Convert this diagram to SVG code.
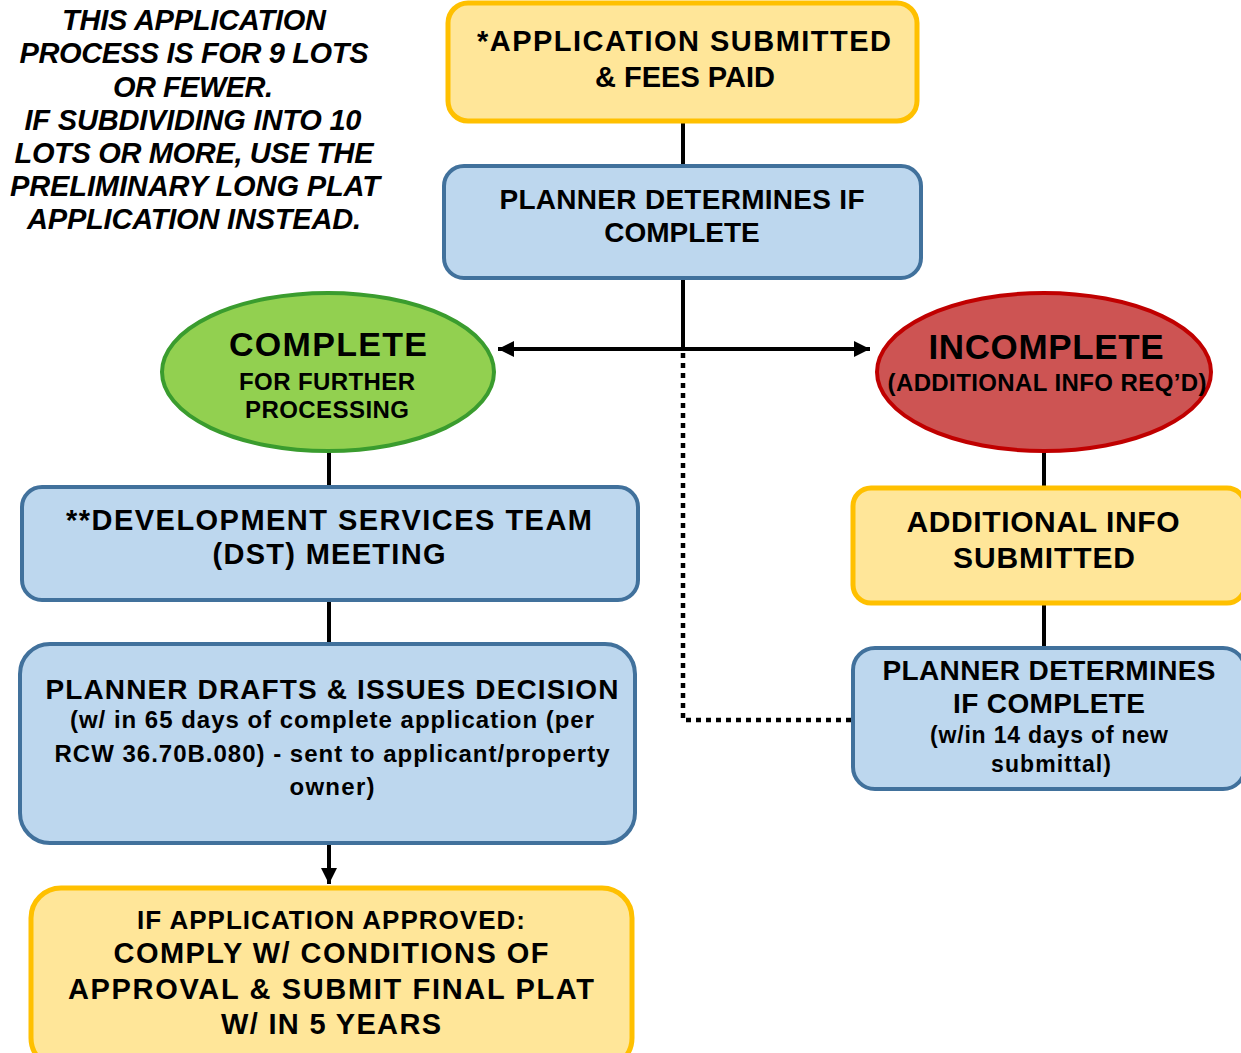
<svg xmlns="http://www.w3.org/2000/svg" width="1241" height="1053" viewBox="0 0 1241 1053">
  <defs>
    <marker id="arrow" markerUnits="userSpaceOnUse" markerWidth="18" markerHeight="16" refX="16" refY="8" orient="auto">
      <path d="M0,0 L16,8 L0,16 Z" fill="#000"/>
    </marker>
    <style>
      .t { font-family: "Liberation Sans", Arial, sans-serif; font-weight: bold; fill: #000; text-anchor: middle; }
      .note { font-style: italic; font-size: 29px; }
      .yellow { fill: #FFE699; stroke: #FFC000; stroke-width: 5; }
      .blue { fill: #BDD7EE; stroke: #41719C; stroke-width: 4; }
      .green { fill: #92D050; stroke: #3A9C2E; stroke-width: 4; }
      .red { fill: #CD5453; stroke: #C00000; stroke-width: 4; }
      .conn { stroke: #000; stroke-width: 4; fill: none; }
      .dots { stroke: #000; stroke-width: 4.5; fill: none; stroke-dasharray: 5 5; }
    </style>
  </defs>

  <rect width="1241" height="1053" fill="#fff"/>

  <!-- scope note -->
  <g id="note">
    <text class="t note" x="194" y="30" textLength="264">THIS APPLICATION</text>
    <text class="t note" x="194" y="63" textLength="349">PROCESS IS FOR 9 LOTS</text>
    <text class="t note" x="193" y="97" textLength="160">OR FEWER.</text>
    <text class="t note" x="193" y="130" textLength="337">IF SUBDIVIDING INTO 10</text>
    <text class="t note" x="194" y="163" textLength="359">LOTS OR MORE, USE THE</text>
    <text class="t note" x="195" y="196" textLength="370">PRELIMINARY LONG PLAT</text>
    <text class="t note" x="194" y="229" textLength="334">APPLICATION INSTEAD.</text>
  </g>

  <!-- connectors -->
  <g id="connectors">
    <line class="conn" x1="683" y1="121" x2="683" y2="167"/>
    <line class="conn" x1="683" y1="277" x2="683" y2="351"/>
    <line class="conn" x1="683" y1="349" x2="498" y2="349" marker-end="url(#arrow)"/>
    <line class="conn" x1="683" y1="349" x2="870" y2="349" marker-end="url(#arrow)"/>
    <line class="conn" x1="329" y1="450" x2="329" y2="489"/>
    <line class="conn" x1="329" y1="599" x2="329" y2="645"/>
    <line class="conn" x1="329" y1="843" x2="329" y2="884" marker-end="url(#arrow)"/>
    <line class="conn" x1="1044" y1="450" x2="1044" y2="489"/>
    <line class="conn" x1="1044" y1="602" x2="1044" y2="649"/>
    <polyline class="dots" points="683,353 683,720 853,720"/>
  </g>

  <g id="submitted">
    <rect class="yellow" x="448" y="3" width="469" height="118" rx="20"/>
    <text class="t" x="684" y="51" font-size="29" textLength="414">*APPLICATION SUBMITTED</text>
    <text class="t" x="685" y="87" font-size="29">&amp; FEES PAID</text>
  </g>

  <g id="check-complete">
    <rect class="blue" x="444" y="166" width="477" height="112" rx="20"/>
    <text class="t" x="682" y="209" font-size="28" textLength="365">PLANNER DETERMINES IF</text>
    <text class="t" x="682" y="242" font-size="28">COMPLETE</text>
  </g>

  <g id="complete">
    <ellipse class="green" cx="328" cy="372" rx="166" ry="79"/>
    <text class="t" x="328" y="356" font-size="34" textLength="198">COMPLETE</text>
    <text class="t" x="327" y="390" font-size="24" textLength="176">FOR FURTHER</text>
    <text class="t" x="327" y="418" font-size="24" textLength="164">PROCESSING</text>
  </g>

  <g id="incomplete">
    <ellipse class="red" cx="1044" cy="372" rx="167" ry="79"/>
    <text class="t" x="1046" y="359" font-size="35" textLength="235">INCOMPLETE</text>
    <text class="t" x="1047" y="391" font-size="24" textLength="319">(ADDITIONAL INFO REQ’D)</text>
  </g>

  <g id="dst-meeting">
    <rect class="blue" x="22" y="487" width="616" height="113" rx="20"/>
    <text class="t" x="329" y="530" font-size="29" textLength="526">**DEVELOPMENT SERVICES TEAM</text>
    <text class="t" x="329" y="564" font-size="29" textLength="233">(DST) MEETING</text>
  </g>

  <g id="decision">
    <rect class="blue" x="20" y="644" width="615" height="199" rx="30"/>
    <text class="t" x="332" y="699" font-size="28" textLength="573">PLANNER DRAFTS &amp; ISSUES DECISION</text>
    <text class="t" x="332" y="728" font-size="24" textLength="524">(w/ in 65 days of complete application (per</text>
    <text class="t" x="332" y="762" font-size="24" textLength="555">RCW 36.70B.080) - sent to applicant/property</text>
    <text class="t" x="332" y="795" font-size="24" textLength="85">owner)</text>
  </g>

  <g id="final-plat">
    <rect class="yellow" x="31" y="888" width="601" height="180" rx="30"/>
    <text class="t" x="331" y="929" font-size="26" textLength="388">IF APPLICATION APPROVED:</text>
    <text class="t" x="331" y="963" font-size="29" textLength="435">COMPLY W/ CONDITIONS OF</text>
    <text class="t" x="331" y="999" font-size="29" textLength="526">APPROVAL &amp; SUBMIT FINAL PLAT</text>
    <text class="t" x="331" y="1034" font-size="29" textLength="220">W/ IN 5 YEARS</text>
  </g>

  <g id="info-submitted">
    <rect class="yellow" x="853" y="488" width="392" height="115" rx="18"/>
    <text class="t" x="1043" y="532" font-size="30" textLength="273">ADDITIONAL INFO</text>
    <text class="t" x="1044" y="568" font-size="30" textLength="182">SUBMITTED</text>
  </g>

  <g id="recheck">
    <rect class="blue" x="853" y="648" width="392" height="141" rx="22"/>
    <text class="t" x="1049" y="680" font-size="28" textLength="333">PLANNER DETERMINES</text>
    <text class="t" x="1049" y="713" font-size="28" textLength="192">IF COMPLETE</text>
    <text class="t" x="1049" y="743" font-size="23" textLength="238">(w/in 14 days of new</text>
    <text class="t" x="1051" y="772" font-size="23" textLength="120">submittal)</text>
  </g>
</svg>
